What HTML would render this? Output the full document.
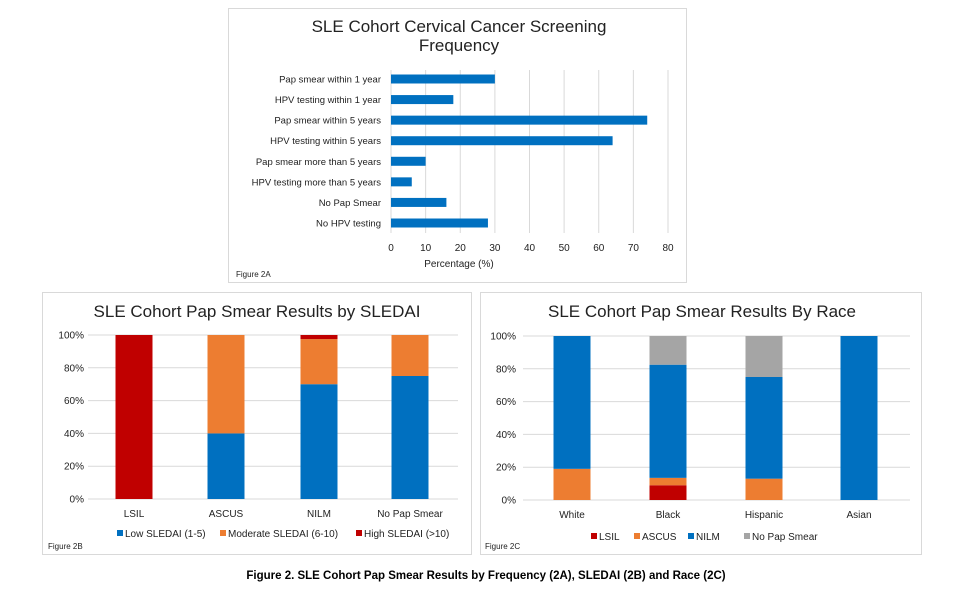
<!DOCTYPE html>
<html><head><meta charset="utf-8"><style>
body{margin:0;background:#fff;font-family:"Liberation Sans",Arial,sans-serif}
svg text{font-family:"Liberation Sans",Arial,sans-serif}
</style></head><body>
<svg id="s" width="972" height="586" viewBox="0 0 972 586">
<rect x="228.5" y="8.5" width="458" height="274" fill="#fff" stroke="#d9d9d9"/>
<rect x="42.5" y="292.5" width="429" height="262" fill="#fff" stroke="#d9d9d9"/>
<rect x="480.5" y="292.5" width="441" height="262" fill="#fff" stroke="#d9d9d9"/>
<text x="459" y="32" font-size="17" text-anchor="middle" fill="#222">SLE Cohort Cervical Cancer Screening</text>
<text x="459" y="51" font-size="17" text-anchor="middle" fill="#222">Frequency</text>
<text x="459" y="267" font-size="10" text-anchor="middle" fill="#222">Percentage (%)</text>
<text x="236" y="277" font-size="8" fill="#222">Figure 2A</text>
<text x="257" y="317" font-size="17" text-anchor="middle" fill="#222">SLE Cohort Pap Smear Results by SLEDAI</text>
<text x="48" y="549" font-size="8" fill="#222">Figure 2B</text>
<text x="702" y="317" font-size="17" text-anchor="middle" fill="#222">SLE Cohort Pap Smear Results By Race</text>
<text x="485" y="549" font-size="8" fill="#222">Figure 2C</text>
<text x="486" y="579" font-size="11.5" font-weight="bold" text-anchor="middle" fill="#000">Figure 2. SLE Cohort Pap Smear Results by Frequency (2A), SLEDAI (2B) and Race (2C)</text>
<g id="ga"></g><g id="gb"></g><g id="gc"></g>
</svg>
<script>
const aCats=["Pap smear within 1 year","HPV testing within 1 year","Pap smear within 5 years","HPV testing within 5 years","Pap smear more than 5 years","HPV testing more than 5 years","No Pap Smear","No HPV testing"];
const aVals=[30,18,74,64,10,6,16,28];
const aTicks=[0,10,20,30,40,50,60,70,80];
const bCats=["LSIL","ASCUS","NILM","No Pap Smear"];
const bLow=[0,40,70,75];
const bMod=[0,60,27.5,25];
const bHigh=[100,0,2.5,0];
const bSeries=["Low SLEDAI (1-5)","Moderate SLEDAI (6-10)","High SLEDAI (>10)"];
const cCats=["White","Black","Hispanic","Asian"];
const cLSIL=[0,9,0,0];
const cASCUS=[19,4.5,13,0];
const cNILM=[81,69,62,100];
const cNoPap=[0,17.5,25,0];
const cSeries=["LSIL","ASCUS","NILM","No Pap Smear"];
const pctTicks=[0,20,40,60,80,100];
const NS="http://www.w3.org/2000/svg";
function mk(p,t,a,txt){const e=document.createElementNS(NS,t);for(const k in a)e.setAttribute(k,a[k]);if(txt!=null)e.textContent=txt;p.appendChild(e);return e;}
// Chart A
const ga=document.getElementById('ga');
const ax=v=>391+v*(668-391)/80;
const ay=i=>79+i*(223-79)/7;
aTicks.forEach(t=>{
 const l=mk(ga,'line',{x1:ax(t),x2:ax(t),y1:70,y2:233,stroke:'#d9d9d9'});
 
 const tx=mk(ga,'text',{x:ax(t),y:251,'font-size':10,'text-anchor':'middle',fill:'#222'},t);
 
});
aCats.forEach((c,i)=>{
 const r=mk(ga,'rect',{x:ax(0),y:ay(i)-4.5,width:ax(aVals[i])-ax(0),height:9,fill:'#0070c0'});
 
 const t=mk(ga,'text',{x:381,y:ay(i)+3.5,'font-size':9.5,'text-anchor':'end',fill:'#222'},c);
 
});
function stacked(g,x0,x1,yTop,yBot,lblX,cats,centers,series,colors,catY){
 const y=v=>yBot-v*(yBot-yTop)/100;
 pctTicks.forEach(t=>{
  const l=mk(g,'line',{x1:x0,x2:x1,y1:y(t),y2:y(t),stroke:'#d9d9d9'});
  
  const tx=mk(g,'text',{x:lblX,y:y(t)+3.5,'font-size':10,'text-anchor':'end',fill:'#222'},t+'%');
  
 });
 cats.forEach((c,i)=>{
  let acc=0;
  series.forEach((s,k)=>{
   const v=s[i];if(v>0){
    const r=mk(g,'rect',{x:centers[i]-18.5,y:y(acc+v),width:37,height:y(acc)-y(acc+v),fill:colors[k]});
    
   }
   acc+=v;
  });
  const t=mk(g,'text',{x:centers[i],y:catY,'font-size':10,'text-anchor':'middle',fill:'#222'},c);
  
 });
}
const gb=document.getElementById('gb');
stacked(gb,88,458,335,499,84,bCats,[134,226,319,410],[bLow,bMod,bHigh],['#0070c0','#ed7d31','#c00000'],517);
const gc=document.getElementById('gc');
stacked(gc,523,910,336,500,516,cCats,[572,668,764,859],[cLSIL,cASCUS,cNILM,cNoPap],['#c00000','#ed7d31','#0070c0','#a5a5a5'],518);
function legend(g,items,colors,xs,y){
 items.forEach((s,i)=>{
  const r=mk(g,'rect',{x:xs[i],y:y-7,width:6,height:6,fill:colors[i]});
  
  const t=mk(g,'text',{x:xs[i]+8,y:y,'font-size':10,fill:'#222'},s);
  
 });
}
legend(gb,bSeries,['#0070c0','#ed7d31','#c00000'],[117,220,356],537);
legend(gc,cSeries,['#c00000','#ed7d31','#0070c0','#a5a5a5'],[591,634,688,744],540);
</script>
</body></html>
